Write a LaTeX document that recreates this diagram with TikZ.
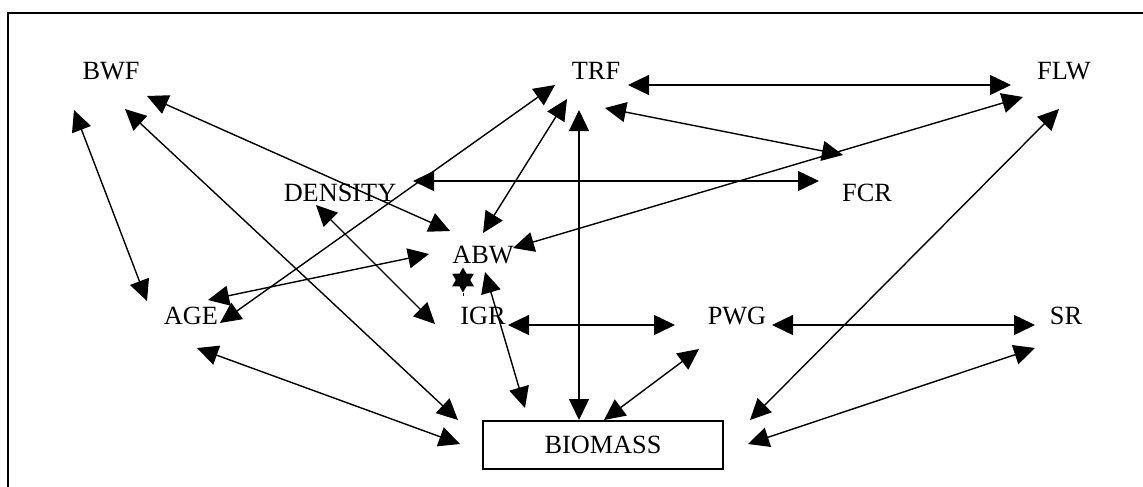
\documentclass[tikz,border=0pt]{standalone}
\usepackage{fontspec}
\setmainfont{Liberation Serif}
\usetikzlibrary{arrows.meta,shapes.geometric}
\begin{document}
\begin{tikzpicture}[x=1pt,y=-1pt,
  lbl/.style={inner sep=0pt,font=\fontsize{26.3}{30}\selectfont},
  link/.style={line width=1.4pt,{Triangle[length=21pt,width=20pt]}-{Triangle[length=21pt,width=20pt]}},
  boxnode/.style={lbl,draw,line width=1.4pt,minimum width=240pt,minimum height=48pt}]
\useasboundingbox (0,0) rectangle (1143,487);
% outer frame (top and left edges)
\draw[line width=1.6pt] (8,487) -- (8,13) -- (1143,13);

% variables
\node[lbl] (bwf)  at (111,71)  {BWF};
\node[lbl] (trf)  at (596,71)  {TRF};
\node[lbl] (flw)  at (1064,71) {FLW};
\node[lbl] (dens) at (340,193) {DENSITY};
\node[lbl] (fcr)  at (867,193) {FCR};
\node[lbl] (abw)  at (483,255) {ABW};
\node[lbl] (age)  at (191,316) {AGE};
\node[lbl] (igr)  at (483,316) {IGR};
\node[lbl] (pwg)  at (737,316) {PWG};
\node[lbl] (sr)   at (1066,316) {SR};
\node[boxnode] (bio) at (603,445) {BIOMASS};

% star mark between ABW and IGR
\node[star,star points=6,star point ratio=1.73,minimum size=25pt,inner sep=0pt,fill=black] (mark) at (463,280) {};
\draw[line width=1pt] (mark.south) -- ++(0,3);

% relations
\draw[link] ([shift={(-37,39)}]bwf.center) -- ([shift={(-44,-15)}]age.center);
\draw[link] ([shift={(14,38)}]bwf.center) -- ([shift={(-145,-25)}]bio.center);
\draw[link] ([shift={(36,25)}]bwf.center) -- ([shift={(-33,-24)}]abw.center);
\draw[link] ([shift={(-41,14)}]trf.center) -- ([shift={(29,7)}]age.center);
\draw[link] ([shift={(-29,28)}]trf.center) -- ([shift={(0,-22)}]abw.center);
\draw[link] ([shift={(-17,39)}]trf.center) -- ([shift={(-24,-25)}]bio.center);
\draw[link] ([shift={(32,14)}]trf.center) -- ([shift={(-53,14)}]flw.center);
\draw[link] ([shift={(9,37)}]trf.center) -- ([shift={(-24,-38)}]fcr.center);
\draw[link] ([shift={(73,-12)}]dens.center) -- ([shift={(-48,-12)}]fcr.center);
\draw[link] ([shift={(30,-7)}]abw.center) -- ([shift={(-41,26)}]flw.center);
\draw[link] ([shift={(-5,38)}]flw.center) -- ([shift={(147,-25)}]bio.center);
\draw[link] ([shift={(-24,12)}]dens.center) -- ([shift={(-48,8)}]igr.center);
\draw[link] ([shift={(17,-16)}]age.center) -- ([shift={(-54,-1)}]abw.center);
\draw[link] ([shift={(2,17)}]abw.center) -- ([shift={(-78,-37)}]bio.center);
\draw[link] ([shift={(25,9)}]igr.center) -- ([shift={(-62,9)}]pwg.center);
\draw[link] ([shift={(35,9)}]pwg.center) -- ([shift={(-31,9)}]sr.center);
\draw[link] ([shift={(-38,33)}]pwg.center) -- ([shift={(1,-25)}]bio.center);
\draw[link] ([shift={(-31,32)}]sr.center) -- ([shift={(145,-1)}]bio.center);
\draw[link] ([shift={(6,32)}]age.center) -- ([shift={(-143,-1)}]bio.center);
\end{tikzpicture}
\end{document}
